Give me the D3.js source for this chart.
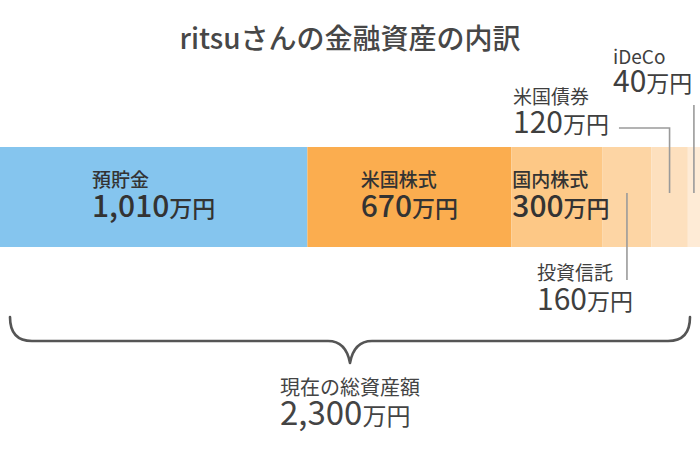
<!DOCTYPE html>
<html><head><meta charset="utf-8">
<script src="https://cdn.jsdelivr.net/npm/d3@7"></script>
<style>
html,body{margin:0;padding:0;background:#fff;}
svg text{font-family:"Noto Sans CJK JP","Noto Sans",sans-serif;}
</style></head>
<body>
<svg id="chart" width="700" height="460"></svg>
<script>
const title = "ritsuさんの金融資産の内訳";
const categories = ["預貯金", "米国株式", "国内株式", "投資信託", "米国債券", "iDeCo"];
const values = [1010, 670, 300, 160, 120, 40];
const unit = "万円";
const totalName = "現在の総資産額";
const palette = ["#85c5ee", "#fbad4f", "#fdc886", "#fdd5a4", "#fde0be", "#feebd6"];

const W = 700, H = 460;
const svg = d3.select("#chart");
const total = d3.sum(values);
const fmt = d3.format(",");
const x = d3.scaleLinear().domain([0, total]).range([0, W]);
const color = d3.scaleOrdinal().domain(categories).range(palette);
const starts = d3.cumsum([0, ...values]).slice(0, values.length);
const data = categories.map((c, i) => ({name: c, value: values[i], x0: starts[i], x1: starts[i] + values[i]}));

const barTop = 147, barH = 100;
const textCol = "#3f3f3f";

svg.append("text").attr("x", W / 2).attr("y", 49).attr("text-anchor", "middle")
  .attr("font-size", 28).attr("font-weight", 500).attr("fill", "#474747").text(title);

svg.append("g").selectAll("rect").data(data).join("rect")
  .attr("x", d => x(d.x0)).attr("y", barTop)
  .attr("width", d => x(d.x1) - x(d.x0)).attr("height", barH)
  .attr("fill", d => color(d.name));

// label block: name on top, value + unit below, left aligned
function label(name, value, left, y, opts = {}) {
  const nameSize = opts.nameSize || 19, numSize = opts.numSize || 30, unitSize = opts.unitSize || 23;
  const gap = opts.gap || 30, wt = opts.weight || 400;
  const g = svg.append("g").attr("fill", opts.fill || textCol);
  const t1 = g.append("text").attr("y", y).attr("font-size", nameSize).attr("font-weight", wt).text(name);
  const t2 = g.append("text").attr("y", y + gap).attr("font-weight", wt);
  t2.append("tspan").attr("font-size", numSize).text(fmt(value));
  t2.append("tspan").attr("font-size", unitSize).text(unit);
  const w = Math.max(t1.node().getComputedTextLength(), t2.node().getComputedTextLength());
  const lx = opts.center != null ? opts.center - w / 2 : left;
  t1.attr("x", lx); t2.attr("x", lx);
  return {left: lx, right: lx + w};
}

// inside labels
[0, 1, 2].forEach(i => {
  const d = data[i];
  const cx = (x(d.x0) + x(d.x1)) / 2 + (i === 2 ? 4 : 0);
  label(d.name, d.value, null, 187, {center: cx, fill: "#333", weight: 500});
});

const lineCol = "#9a9a9a";
const mid = d => (x(d.x0) + x(d.x1)) / 2;
const lineEnd = barTop + 46;

// 投資信託 (below)
{
  const d = data[3];
  label(d.name, d.value, 537, 280);
  svg.append("line").attr("x1", mid(d)).attr("x2", mid(d)).attr("y1", lineEnd).attr("y2", 280)
    .attr("stroke", lineCol).attr("stroke-width", 1.6);
}
// 米国債券 (above, elbow)
{
  const d = data[4];
  const b = label(d.name, d.value, 513, 104, {gap: 29});
  svg.append("path").attr("d", `M${b.right + 10},128H${mid(d)}V${lineEnd}`)
    .attr("fill", "none").attr("stroke", lineCol).attr("stroke-width", 1.6);
}
// iDeCo (above)
{
  const d = data[5];
  label(d.name, d.value, 613, 64, {gap: 28});
  svg.append("line").attr("x1", mid(d)).attr("x2", mid(d)).attr("y1", 105).attr("y2", lineEnd)
    .attr("stroke", lineCol).attr("stroke-width", 1.6);
}

// brace
{
  const l = x(0) + 10, r = x(total) - 10, c = (l + r) / 2;
  const top = 317, yb = 341, tip = 363, rad = 22;
  const p = `M${l},${top} Q${l},${yb} ${l + rad},${yb} H${c - 22} Q${c - 4},${yb} ${c},${tip} Q${c + 4},${yb} ${c + 22},${yb} H${r - rad} Q${r},${yb} ${r},${top}`;
  svg.append("path").attr("d", p).attr("fill", "none").attr("stroke", "#555").attr("stroke-width", 2.6)
    .attr("stroke-linejoin", "round").attr("stroke-linecap", "round");
}

label(totalName, total, null, 395, {center: W / 2, nameSize: 20, numSize: 33, unitSize: 24, gap: 30, fill: "#444"});
</script>
</body></html>
